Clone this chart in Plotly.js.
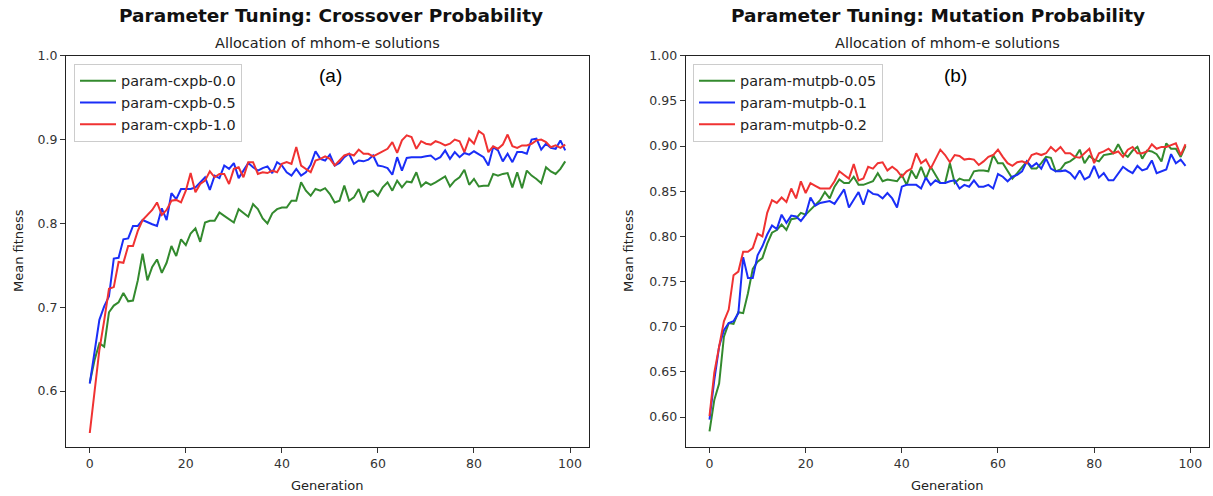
<!DOCTYPE html>
<html>
<head>
<meta charset="utf-8">
<script src="https://cdn.plot.ly/plotly-3.0.1.min.js"></script>
<style>html,body{margin:0;padding:0;background:#fff;}#chart{width:1213px;height:496px;}</style>
</head>
<body>
<div id="chart"></div>
<script>
// Generation index (x categories)
const generations = Array.from({length: 100}, (_, i) => i);

// Crossover probability experiment
const cxpb00 = [0.610,0.637,0.657,0.653,0.694,0.702,0.706,0.717,0.707,0.708,
0.732,0.764,0.732,0.748,0.757,0.741,0.753,0.773,0.761,0.781,
0.774,0.788,0.794,0.778,0.801,0.803,0.803,0.813,0.809,0.805,
0.801,0.817,0.812,0.808,0.823,0.817,0.806,0.800,0.812,0.817,
0.819,0.819,0.827,0.827,0.849,0.839,0.833,0.841,0.839,0.842,
0.835,0.825,0.827,0.845,0.827,0.831,0.841,0.825,0.837,0.839,
0.833,0.843,0.849,0.839,0.851,0.843,0.850,0.849,0.861,0.844,
0.849,0.846,0.849,0.852,0.856,0.844,0.851,0.855,0.864,0.846,
0.853,0.844,0.845,0.845,0.859,0.857,0.859,0.860,0.843,0.861,
0.842,0.863,0.857,0.853,0.848,0.867,0.862,0.859,0.865,0.874];

const cxpb05 = [0.609,0.649,0.685,0.701,0.713,0.758,0.759,0.781,0.782,0.797,
0.797,0.804,0.801,0.799,0.797,0.818,0.804,0.836,0.829,0.841,
0.841,0.841,0.843,0.849,0.855,0.840,0.857,0.854,0.869,0.865,
0.872,0.854,0.863,0.872,0.867,0.863,0.866,0.868,0.860,0.873,
0.869,0.861,0.857,0.865,0.857,0.861,0.870,0.886,0.877,0.875,
0.882,0.869,0.872,0.879,0.883,0.871,0.875,0.874,0.876,0.881,
0.869,0.868,0.866,0.858,0.879,0.863,0.878,0.879,0.879,0.879,
0.880,0.881,0.876,0.879,0.887,0.877,0.885,0.879,0.884,0.882,
0.886,0.883,0.879,0.869,0.891,0.887,0.874,0.883,0.873,0.885,
0.885,0.883,0.900,0.901,0.888,0.895,0.890,0.889,0.899,0.887];

const cxpb10 = [0.550,0.597,0.649,0.684,0.722,0.724,0.754,0.753,0.773,0.773,
0.791,0.804,0.810,0.816,0.825,0.810,0.816,0.827,0.828,0.825,
0.839,0.860,0.837,0.847,0.851,0.862,0.855,0.859,0.859,0.847,
0.865,0.867,0.855,0.873,0.873,0.859,0.861,0.860,0.863,0.861,
0.871,0.873,0.871,0.891,0.869,0.865,0.861,0.875,0.877,0.880,
0.877,0.869,0.875,0.881,0.883,0.881,0.888,0.883,0.883,0.880,
0.883,0.886,0.889,0.897,0.884,0.899,0.905,0.903,0.889,0.898,
0.895,0.894,0.898,0.896,0.893,0.895,0.900,0.898,0.885,0.901,
0.895,0.910,0.906,0.885,0.892,0.889,0.894,0.906,0.892,0.890,
0.893,0.893,0.895,0.899,0.900,0.897,0.891,0.893,0.890,0.894];

// Mutation probability experiment
const mutpb005 = [0.584,0.619,0.637,0.689,0.704,0.703,0.716,0.715,0.737,0.764,
0.772,0.776,0.792,0.804,0.807,0.813,0.807,0.819,0.820,0.826,
0.824,0.829,0.835,0.840,0.849,0.842,0.855,0.863,0.859,0.859,
0.866,0.857,0.857,0.859,0.861,0.870,0.861,0.863,0.862,0.861,
0.868,0.857,0.873,0.864,0.877,0.864,0.877,0.868,0.859,0.859,
0.881,0.859,0.864,0.862,0.862,0.872,0.873,0.873,0.872,0.890,
0.881,0.881,0.873,0.864,0.870,0.877,0.883,0.875,0.875,0.881,
0.888,0.887,0.872,0.874,0.881,0.883,0.887,0.896,0.881,0.889,
0.885,0.883,0.890,0.891,0.892,0.902,0.892,0.888,0.895,0.899,
0.886,0.895,0.894,0.891,0.883,0.903,0.897,0.897,0.888,0.900];

const mutpb01 = [0.597,0.641,0.678,0.696,0.704,0.706,0.715,0.777,0.754,0.754,
0.779,0.789,0.802,0.812,0.808,0.824,0.815,0.823,0.822,0.817,
0.824,0.843,0.834,0.837,0.838,0.839,0.836,0.844,0.852,0.832,
0.841,0.849,0.835,0.851,0.847,0.846,0.842,0.848,0.842,0.832,
0.855,0.857,0.857,0.857,0.853,0.865,0.857,0.862,0.859,0.859,
0.861,0.862,0.853,0.857,0.855,0.862,0.855,0.855,0.857,0.853,
0.869,0.866,0.861,0.866,0.868,0.872,0.883,0.877,0.881,0.875,
0.886,0.875,0.872,0.872,0.873,0.870,0.864,0.873,0.863,0.866,
0.878,0.865,0.870,0.862,0.862,0.870,0.877,0.873,0.870,0.878,
0.873,0.875,0.884,0.870,0.872,0.874,0.891,0.881,0.885,0.878];

const mutpb02 = [0.601,0.649,0.678,0.706,0.719,0.757,0.761,0.783,0.783,0.787,
0.803,0.800,0.826,0.840,0.837,0.843,0.838,0.853,0.842,0.861,
0.848,0.859,0.856,0.853,0.853,0.853,0.861,0.872,0.868,0.864,
0.880,0.862,0.864,0.877,0.875,0.881,0.882,0.873,0.877,0.873,
0.866,0.872,0.875,0.892,0.881,0.885,0.875,0.885,0.896,0.890,
0.882,0.890,0.889,0.885,0.886,0.885,0.879,0.883,0.888,0.890,
0.896,0.888,0.881,0.878,0.882,0.883,0.881,0.890,0.892,0.890,
0.892,0.899,0.894,0.899,0.892,0.892,0.888,0.887,0.892,0.897,
0.881,0.892,0.894,0.897,0.892,0.894,0.888,0.896,0.899,0.892,
0.892,0.894,0.902,0.897,0.899,0.899,0.901,0.903,0.890,0.902];

const leftNames = ['param-cxpb-0.0', 'param-cxpb-0.5', 'param-cxpb-1.0'];
const rightNames = ['param-mutpb-0.05', 'param-mutpb-0.1', 'param-mutpb-0.2'];
const leftTicks = [0.6, 0.7, 0.8, 0.9, 1.0];
const rightTicks = [0.60, 0.65, 0.70, 0.75, 0.80, 0.85, 0.90, 0.95, 1.00];
const xTicks = [0, 20, 40, 60, 80, 100];

const colors = ['#338a2e', '#1a2ef7', '#f03232'];
const W = 1213, H = 496;
const FONT = 'DejaVu Sans, sans-serif';

function tr(y, name, color, xa, ya, lg) {
  return {x: generations, y: y, name: name, type: 'scatter', mode: 'lines',
    line: {color: color, width: 2}, xaxis: xa, yaxis: ya, legend: lg};
}

const data = [
  tr(cxpb00, leftNames[0], colors[0], 'x', 'y', 'legend'),
  tr(cxpb05, leftNames[1], colors[1], 'x', 'y', 'legend'),
  tr(cxpb10, leftNames[2], colors[2], 'x', 'y', 'legend'),
  tr(mutpb005, rightNames[0], colors[0], 'x2', 'y2', 'legend2'),
  tr(mutpb01, rightNames[1], colors[1], 'x2', 'y2', 'legend2'),
  tr(mutpb02, rightNames[2], colors[2], 'x2', 'y2', 'legend2')
];

const axisCommon = {
  showline: true, mirror: true, linecolor: '#222', linewidth: 1,
  ticks: 'outside', ticklen: 5, tickwidth: 1, tickcolor: '#333',
  showgrid: false, zeroline: false,
  tickfont: {family: FONT, size: 12.5, color: '#333'}
};

const yDom = [1 - 447/H, 1 - 55.7/H];

const legendCommon = {xanchor: 'left', yanchor: 'top', bgcolor: 'rgba(255,255,255,0.8)',
  bordercolor: '#cccccc', borderwidth: 1, font: {family: FONT, size: 14.4, color: '#222'},
  tracegroupgap: 0, itemwidth: 36};

const layout = {
  width: W, height: H,
  margin: {l: 0, r: 0, t: 0, b: 0},
  paper_bgcolor: '#fff', plot_bgcolor: '#fff',
  showlegend: true,
  font: {family: FONT, color: '#222'},
  xaxis: Object.assign({}, axisCommon, {domain: [66/W, 589/W], range: [-4.95, 103.95], tickvals: xTicks, anchor: 'y'}),
  yaxis: Object.assign({}, axisCommon, {domain: yDom, range: [0.5333, 1.0], tickvals: leftTicks, tickformat: '.1f', anchor: 'x'}),
  xaxis2: Object.assign({}, axisCommon, {domain: [685.7/W, 1209.3/W], range: [-4.95, 103.95], tickvals: xTicks, anchor: 'y2'}),
  yaxis2: Object.assign({}, axisCommon, {domain: yDom, range: [0.5668, 1.0], tickvals: rightTicks, tickformat: '.2f', anchor: 'x2'}),
  legend: Object.assign({}, legendCommon, {x: 74/W, y: 1 - 64/H}),
  legend2: Object.assign({}, legendCommon, {x: 693/W, y: 1 - 64/H}),
  annotations: [
    {text: '<b>Parameter Tuning: Crossover Probability</b>', x: 331/W, y: 1 - 16/H, xref: 'paper', yref: 'paper',
      xanchor: 'center', yanchor: 'middle', showarrow: false, font: {family: FONT, size: 18.5, color: '#111'}},
    {text: '<b>Parameter Tuning: Mutation Probability</b>', x: 938/W, y: 1 - 16/H, xref: 'paper', yref: 'paper',
      xanchor: 'center', yanchor: 'middle', showarrow: false, font: {family: FONT, size: 18.5, color: '#111'}},
    {text: 'Allocation of mhom-e solutions', x: 327.5/W, y: 1 - 43/H, xref: 'paper', yref: 'paper',
      xanchor: 'center', yanchor: 'middle', showarrow: false, font: {family: FONT, size: 14.5, color: '#222'}},
    {text: 'Allocation of mhom-e solutions', x: 947.5/W, y: 1 - 43/H, xref: 'paper', yref: 'paper',
      xanchor: 'center', yanchor: 'middle', showarrow: false, font: {family: FONT, size: 14.5, color: '#222'}},
    {text: 'Generation', x: 327.5/W, y: 1 - 485/H, xref: 'paper', yref: 'paper',
      xanchor: 'center', yanchor: 'middle', showarrow: false, font: {family: FONT, size: 13, color: '#222'}},
    {text: 'Generation', x: 947.5/W, y: 1 - 485/H, xref: 'paper', yref: 'paper',
      xanchor: 'center', yanchor: 'middle', showarrow: false, font: {family: FONT, size: 13, color: '#222'}},
    {text: 'Mean fitness', x: 18/W, y: 1 - 251/H, xref: 'paper', yref: 'paper', textangle: -90,
      xanchor: 'center', yanchor: 'middle', showarrow: false, font: {family: FONT, size: 13, color: '#222'}},
    {text: 'Mean fitness', x: 628/W, y: 1 - 251/H, xref: 'paper', yref: 'paper', textangle: -90,
      xanchor: 'center', yanchor: 'middle', showarrow: false, font: {family: FONT, size: 13, color: '#222'}},
    {text: '(a)', x: 330/W, y: 1 - 76/H, xref: 'paper', yref: 'paper',
      xanchor: 'center', yanchor: 'middle', showarrow: false, font: {family: 'Liberation Sans, Arial, sans-serif', size: 19, color: '#000'}},
    {text: '(b)', x: 955/W, y: 1 - 76/H, xref: 'paper', yref: 'paper',
      xanchor: 'center', yanchor: 'middle', showarrow: false, font: {family: 'Liberation Sans, Arial, sans-serif', size: 19, color: '#000'}}
  ]
};

Plotly.newPlot('chart', data, layout, {staticPlot: true, displayModeBar: false});
</script>
</body>
</html>
